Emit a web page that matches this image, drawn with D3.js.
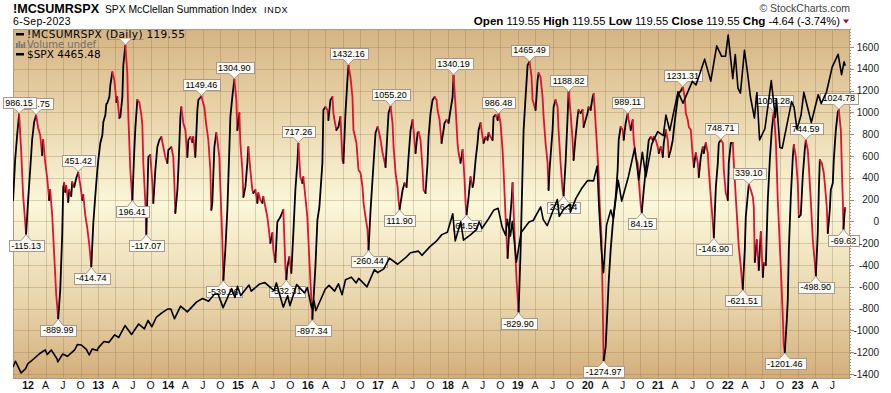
<!DOCTYPE html>
<html><head><meta charset="utf-8">
<script src="https://cdn.jsdelivr.net/npm/d3@7"></script>
<style>body{margin:0;background:#fff}svg{display:block}</style>
</head><body><svg id="c" width="891" height="393"></svg>
<script>
// ---- Data ----
// McClellan Summation Index: [decimal year, value]
const siPoints = [[2011.785,197],[2011.814,564],[2011.843,794],[2011.871,986.15],[2011.900,656],[2011.928,243],[2011.971,-115.13],[2012.000,197],[2012.029,472],[2012.057,748],[2012.086,913],[2012.114,975.75],[2012.143,858],[2012.172,794],[2012.200,610],[2012.215,748],[2012.243,546],[2012.272,399],[2012.300,197],[2012.315,289],[2012.343,60],[2012.372,-307],[2012.401,-674],[2012.429,-889.99],[2012.458,-628],[2012.486,-124],[2012.501,317],[2012.515,353],[2012.529,271],[2012.544,326],[2012.572,179],[2012.587,289],[2012.615,234],[2012.629,362],[2012.658,317],[2012.687,399],[2012.715,451.42],[2012.744,335],[2012.773,197],[2012.787,243],[2012.815,60],[2012.844,-60],[2012.873,-216],[2012.901,-414.74],[2012.930,-14],[2012.959,243],[2012.987,472],[2013.001,564],[2013.030,720],[2013.059,794],[2013.073,913],[2013.102,977],[2013.116,1078],[2013.130,1087],[2013.159,1142],[2013.173,1252],[2013.202,1371],[2013.216,1335],[2013.230,1298],[2013.245,1206],[2013.259,1096],[2013.273,1142],[2013.302,950],[2013.316,959],[2013.345,1142],[2013.359,1436],[2013.388,1615],[2013.416,1362],[2013.431,959],[2013.459,472],[2013.488,196.41],[2013.516,656],[2013.531,858],[2013.559,1115],[2013.588,1096],[2013.617,977],[2013.631,885],[2013.645,537],[2013.674,170],[2013.688,-117.07],[2013.717,592],[2013.745,610],[2013.774,353],[2013.788,170],[2013.817,472],[2013.845,683],[2013.874,748],[2013.903,775],[2013.931,683],[2013.960,592],[2013.989,537],[2014.003,656],[2014.046,683],[2014.074,592],[2014.089,353],[2014.103,78],[2014.132,289],[2014.146,472],[2014.175,959],[2014.189,1050],[2014.217,904],[2014.246,839],[2014.275,592],[2014.289,748],[2014.318,775],[2014.346,729],[2014.360,775],[2014.389,592],[2014.418,1023],[2014.432,1115],[2014.475,1149.46],[2014.489,1115],[2014.518,1050],[2014.546,885],[2014.575,748],[2014.604,472],[2014.618,106],[2014.632,170],[2014.661,683],[2014.689,812],[2014.704,748],[2014.732,592],[2014.747,317],[2014.775,-170],[2014.790,-539.36],[2014.818,-261],[2014.847,106],[2014.875,656],[2014.890,959],[2014.918,1142],[2014.947,1304.90],[2014.976,1115],[2014.990,839],[2015.019,995],[2015.033,720],[2015.062,472],[2015.076,225],[2015.105,317],[2015.133,537],[2015.147,683],[2015.176,472],[2015.205,289],[2015.219,261],[2015.248,289],[2015.276,170],[2015.290,261],[2015.319,197],[2015.348,170],[2015.362,225],[2015.391,133],[2015.419,41],[2015.433,-32],[2015.462,-197],[2015.491,-106],[2015.505,-261],[2015.534,-372],[2015.562,-5],[2015.605,41],[2015.648,106],[2015.677,-417],[2015.691,-532.31],[2015.705,-417],[2015.734,-326],[2015.762,-472],[2015.791,-106],[2015.820,289],[2015.848,537],[2015.863,717.26],[2015.891,408],[2015.920,353],[2015.934,408],[2015.963,225],[2015.991,41],[2016.020,-353],[2016.049,-720],[2016.063,-897.34],[2016.106,-417],[2016.135,14],[2016.163,133],[2016.206,537],[2016.220,1023],[2016.249,1050],[2016.278,1023],[2016.292,931],[2016.321,1115],[2016.349,1142],[2016.363,995],[2016.378,931],[2016.406,839],[2016.435,867],[2016.463,959],[2016.492,564],[2016.506,537],[2016.535,995],[2016.563,1298],[2016.578,1432.16],[2016.606,1326],[2016.635,1142],[2016.649,839],[2016.692,720],[2016.721,472],[2016.750,445],[2016.778,317],[2016.793,170],[2016.821,41],[2016.850,-78],[2016.864,-260.44],[2016.893,106],[2016.936,537],[2016.964,812],[2016.993,867],[2017.007,839],[2017.036,748],[2017.064,628],[2017.079,592],[2017.107,500],[2017.136,839],[2017.150,995],[2017.179,1055.20],[2017.207,904],[2017.222,683],[2017.250,445],[2017.279,317],[2017.293,197],[2017.308,111.90],[2017.351,289],[2017.379,353],[2017.408,317],[2017.436,592],[2017.465,839],[2017.494,931],[2017.508,839],[2017.536,628],[2017.565,812],[2017.579,821],[2017.608,748],[2017.637,472],[2017.651,289],[2017.679,261],[2017.708,537],[2017.722,775],[2017.751,995],[2017.780,1115],[2017.808,1142],[2017.837,1115],[2017.851,1023],[2017.880,931],[2017.908,720],[2017.937,839],[2017.951,904],[2017.980,931],[2018.009,904],[2018.037,1023],[2018.066,1142],[2018.080,1340.19],[2018.109,1050],[2018.137,720],[2018.152,628],[2018.180,537],[2018.209,656],[2018.223,537],[2018.237,381],[2018.252,170],[2018.266,64.55],[2018.295,225],[2018.323,408],[2018.352,317],[2018.366,353],[2018.395,564],[2018.423,720],[2018.438,839],[2018.466,904],[2018.495,775],[2018.509,720],[2018.538,775],[2018.566,748],[2018.581,812],[2018.609,775],[2018.638,748],[2018.652,959],[2018.681,977],[2018.710,931],[2018.724,986.48],[2018.752,904],[2018.781,656],[2018.795,472],[2018.824,41],[2018.853,-335],[2018.881,-32],[2018.910,197],[2018.924,353],[2018.953,-124],[2018.981,-537],[2019.010,-829.90],[2019.039,-261],[2019.067,472],[2019.082,839],[2019.110,1142],[2019.139,1436],[2019.167,1465.49],[2019.196,1326],[2019.210,1115],[2019.224,1087],[2019.253,1023],[2019.282,1298],[2019.296,1362],[2019.324,1326],[2019.353,1142],[2019.368,959],[2019.396,720],[2019.425,537],[2019.439,289],[2019.453,472],[2019.496,839],[2019.511,1050],[2019.539,1115],[2019.568,1050],[2019.582,839],[2019.611,537],[2019.639,289],[2019.654,236.34],[2019.682,537],[2019.711,959],[2019.725,1188.82],[2019.754,995],[2019.782,748],[2019.797,564],[2019.825,775],[2019.854,959],[2019.868,1023],[2019.897,995],[2019.925,1023],[2019.940,867],[2019.968,931],[2019.997,995],[2020.011,1050],[2020.040,1023],[2020.069,1142],[2020.083,1170],[2020.097,1050],[2020.126,748],[2020.154,445],[2020.169,170],[2020.197,-170],[2020.212,-720],[2020.226,-1274.97],[2020.255,-1151],[2020.283,-766],[2020.297,-564],[2020.326,-261],[2020.355,-32],[2020.369,60],[2020.398,225],[2020.426,472],[2020.441,748],[2020.469,867],[2020.498,839],[2020.512,748],[2020.541,904],[2020.569,989.11],[2020.584,931],[2020.612,839],[2020.641,931],[2020.655,748],[2020.684,592],[2020.712,537],[2020.727,381],[2020.755,151],[2020.770,84.15],[2020.798,289],[2020.827,472],[2020.855,656],[2020.870,748],[2020.898,775],[2020.927,748],[2020.941,775],[2020.970,748],[2020.998,683],[2021.013,628],[2021.041,683],[2021.070,592],[2021.084,720],[2021.113,839],[2021.141,748],[2021.156,592],[2021.184,656],[2021.213,748],[2021.227,839],[2021.256,995],[2021.285,1142],[2021.299,1179],[2021.328,1197],[2021.356,1231.31],[2021.385,1142],[2021.399,995],[2021.428,931],[2021.442,867],[2021.471,839],[2021.499,592],[2021.514,500],[2021.542,628],[2021.571,537],[2021.585,408],[2021.614,592],[2021.643,683],[2021.657,628],[2021.685,720],[2021.714,628],[2021.728,472],[2021.757,225],[2021.786,-14],[2021.800,-146.90],[2021.829,317],[2021.857,537],[2021.871,720],[2021.900,748.71],[2021.929,720],[2021.943,472],[2021.971,261],[2022.000,197],[2022.014,537],[2022.043,720],[2022.071,720],[2022.086,537],[2022.114,225],[2022.143,-78],[2022.157,-234],[2022.186,-417],[2022.214,-621.51],[2022.243,-261],[2022.257,41],[2022.286,243],[2022.300,339.10],[2022.329,289],[2022.358,225],[2022.372,133],[2022.386,-372],[2022.415,-170],[2022.443,-445],[2022.472,-96],[2022.501,-509],[2022.515,-381],[2022.544,-399],[2022.572,197],[2022.601,564],[2022.629,839],[2022.658,1003.28],[2022.687,748],[2022.715,197],[2022.758,-417],[2022.787,-876],[2022.801,-1133],[2022.815,-1201.46],[2022.844,-904],[2022.858,-720],[2022.873,-261],[2022.901,225],[2022.930,592],[2022.944,702],[2022.973,592],[2023.001,353],[2023.016,41],[2023.044,60],[2023.073,427],[2023.101,656],[2023.116,744.59],[2023.144,656],[2023.158,518],[2023.187,197],[2023.216,-170],[2023.244,-372],[2023.259,-498.90],[2023.287,-106],[2023.302,289],[2023.316,564],[2023.345,537],[2023.373,445],[2023.387,353],[2023.416,133],[2023.430,-106],[2023.459,106],[2023.473,289],[2023.502,353],[2023.516,564],[2023.545,839],[2023.574,1005],[2023.588,1024.78],[2023.617,839],[2023.632,472],[2023.645,197],[2023.655,-69.62],[2023.668,60],[2023.678,124.19],[2023.682,119.55]];

// S&P 500 overlay: [date, close]
const spxPoints = [["2011-10-14",1224],["2011-10-27",1285],["2011-11-25",1159],["2011-12-19",1206],["2011-12-30",1258],["2012-01-31",1312],["2012-02-29",1366],["2012-03-30",1408],["2012-04-10",1358],["2012-05-01",1406],["2012-05-31",1310],["2012-06-04",1278],["2012-06-29",1362],["2012-07-24",1338],["2012-08-31",1407],["2012-09-14",1465],["2012-10-05",1460],["2012-10-31",1412],["2012-11-15",1353],["2012-11-30",1416],["2012-12-28",1402],["2012-12-31",1426],["2013-01-31",1498],["2013-02-25",1488],["2013-03-28",1569],["2013-04-18",1541],["2013-05-21",1669],["2013-06-24",1573],["2013-07-31",1686],["2013-08-30",1633],["2013-09-18",1725],["2013-10-08",1656],["2013-10-31",1757],["2013-11-29",1806],["2013-12-31",1848],["2014-01-15",1848],["2014-02-03",1742],["2014-03-07",1878],["2014-04-11",1816],["2014-05-30",1924],["2014-06-30",1960],["2014-07-31",1931],["2014-08-29",2003],["2014-09-18",2011],["2014-10-15",1862],["2014-11-28",2068],["2014-12-16",1972],["2014-12-29",2091],["2015-01-15",1992],["2015-02-27",2105],["2015-03-11",2040],["2015-04-24",2117],["2015-05-21",2131],["2015-07-08",2046],["2015-07-20",2128],["2015-08-25",1868],["2015-09-17",1990],["2015-09-29",1884],["2015-11-03",2110],["2015-12-14",2021],["2015-12-29",2078],["2016-01-20",1859],["2016-02-01",1940],["2016-02-11",1829],["2016-03-31",2060],["2016-04-20",2102],["2016-05-19",2040],["2016-06-08",2119],["2016-06-27",2001],["2016-07-15",2162],["2016-08-15",2190],["2016-09-09",2128],["2016-09-22",2177],["2016-11-04",2085],["2016-12-13",2271],["2016-12-30",2239],["2017-01-31",2279],["2017-03-01",2396],["2017-04-13",2329],["2017-05-31",2412],["2017-06-19",2453],["2017-07-31",2470],["2017-08-18",2425],["2017-09-29",2519],["2017-10-31",2575],["2017-11-30",2648],["2017-12-29",2674],["2018-01-26",2873],["2018-02-08",2581],["2018-03-09",2786],["2018-03-23",2588],["2018-04-30",2648],["2018-05-31",2705],["2018-06-12",2787],["2018-06-28",2716],["2018-07-31",2816],["2018-08-29",2914],["2018-09-20",2931],["2018-10-11",2728],["2018-10-29",2641],["2018-11-07",2814],["2018-11-23",2633],["2018-12-03",2790],["2018-12-24",2351],["2019-01-18",2671],["2019-02-28",2784],["2019-03-22",2800],["2019-04-30",2946],["2019-05-13",2812],["2019-06-03",2744],["2019-07-26",3026],["2019-08-05",2845],["2019-08-30",2926],["2019-09-30",2977],["2019-10-02",2888],["2019-10-31",3038],["2019-11-29",3141],["2019-12-31",3231],["2020-01-31",3226],["2020-02-19",3386],["2020-02-28",2954],["2020-03-12",2481],["2020-03-23",2237],["2020-04-08",2750],["2020-04-30",2912],["2020-05-13",2820],["2020-06-08",3232],["2020-06-26",3009],["2020-07-31",3271],["2020-09-02",3580],["2020-09-23",3237],["2020-10-12",3535],["2020-10-30",3270],["2020-11-30",3622],["2020-12-31",3756],["2021-01-29",3714],["2021-02-12",3934],["2021-03-04",3768],["2021-04-16",4185],["2021-05-12",4063],["2021-06-30",4298],["2021-07-19",4258],["2021-08-31",4523],["2021-09-02",4537],["2021-10-04",4300],["2021-11-04",4680],["2021-11-30",4567],["2021-12-20",4568],["2022-01-03",4796],["2022-01-27",4326],["2022-02-09",4587],["2022-02-23",4225],["2022-03-08",4171],["2022-03-29",4632],["2022-04-14",4392],["2022-04-29",4132],["2022-05-20",3901],["2022-06-02",4177],["2022-06-16",3667],["2022-07-14",3790],["2022-08-16",4305],["2022-09-06",3908],["2022-09-12",4110],["2022-09-30",3586],["2022-10-12",3577],["2022-11-30",4080],["2022-12-13",4019],["2022-12-28",3783],["2023-01-18",3929],["2023-02-02",4179],["2023-03-13",3855],["2023-04-18",4154],["2023-05-04",4061],["2023-05-31",4180],["2023-06-30",4450],["2023-07-31",4589],["2023-08-18",4370],["2023-08-31",4508],["2023-09-06",4465]];

// Peak / trough annotations: [decimal year, value, side]
const annotations = [[2012.114,975.75,"up"],[2011.871,986.15,"up"],[2011.971,-115.13,"down"],[2012.429,-889.99,"down"],[2012.715,451.42,"up"],[2012.901,-414.74,"down"],[2013.388,1615.00,"up"],[2013.488,196.41,"down"],[2013.688,-117.07,"down"],[2014.475,1149.46,"up"],[2014.790,-539.36,"down"],[2014.947,1304.90,"up"],[2015.691,-532.31,"down"],[2015.863,717.26,"up"],[2016.063,-897.34,"down"],[2016.578,1432.16,"up"],[2016.864,-260.44,"down"],[2017.179,1055.20,"up"],[2017.308,111.90,"down"],[2018.080,1340.19,"up"],[2018.266,64.55,"down"],[2018.724,986.48,"up"],[2019.010,-829.90,"down"],[2019.167,1465.49,"up"],[2019.654,236.34,"down"],[2019.725,1188.82,"up"],[2020.226,-1274.97,"down"],[2020.569,989.11,"up"],[2020.770,84.15,"down"],[2021.356,1231.31,"up"],[2021.800,-146.90,"down"],[2021.900,748.71,"up"],[2022.214,-621.51,"down"],[2022.300,339.10,"up"],[2022.658,1003.28,"up"],[2022.815,-1201.46,"down"],[2023.116,744.59,"up"],[2023.259,-498.90,"down"],[2023.588,1024.78,"up"],[2023.655,-69.62,"down"]];

const yTickValues = [-1400,-1200,-1000,-800,-600,-400,-200,0,200,400,600,800,1000,1200,1400,1600];
const quarterLetters = {3:"A",6:"J",9:"O"};
const headerFields = [["Open","119.55"],["High","119.55"],["Low","119.55"],["Close","119.55"],["Chg","-4.64 (-3.74%)"]];
const legendItems = ["!MCSUMRSPX (Daily) 119.55","Volume undef","$SPX 4465.48"];

// ---- Layout ----
const W=891,H=393, L=13, R=850, T=29, B=379;
const svg = d3.select("#c");
const decToDate = d => { const y=Math.floor(d), a=Date.UTC(y,0,1), b=Date.UTC(y+1,0,1); return new Date(a+(d-y)*(b-a)); };
const x = d3.scaleUtc().domain([Date.UTC(2011,9,14), Date.UTC(2023,9,1)]).range([L,R]);
const y = d3.scaleLinear().domain([-1445,1766]).range([B,T]);
const ySpx = d3.scaleLinear().domain([1094,4861]).range([B,T]);

const defs = svg.append("defs");
const g = defs.append("linearGradient").attr("id","bg").attr("x1",0).attr("y1",0).attr("x2",0).attr("y2",1);
[[0,"#d5b484"],[0.2,"#e6cfa3"],[0.5,"#fbf7da"],[0.8,"#e7d2a8"],[1,"#d3ad7a"]].forEach(s=>g.append("stop").attr("offset",s[0]).attr("stop-color",s[1]));
defs.append("clipPath").attr("id","plotclip").append("rect").attr("x",L).attr("y",T).attr("width",R-L).attr("height",B-T);
defs.append("clipPath").attr("id","lblclip").append("rect").attr("x",0).attr("y",38.5).attr("width",W).attr("height",H);

svg.append("rect").attr("x",L).attr("y",T).attr("width",R-L).attr("height",B-T).attr("fill","url(#bg)");

// grid
const quarters = d3.utcMonth.every(3).range(new Date(Date.UTC(2012,0,1)), new Date(Date.UTC(2023,9,1)));
const grid = svg.append("g").attr("stroke","#8a6a40").attr("stroke-opacity",0.28).attr("stroke-width",1);
grid.selectAll(".v").data(quarters).join("line").attr("x1",d=>Math.round(x(d))+0.5).attr("x2",d=>Math.round(x(d))+0.5).attr("y1",T).attr("y2",B);
grid.selectAll(".h").data(yTickValues).join("line").attr("y1",d=>Math.round(y(d))+0.5).attr("y2",d=>Math.round(y(d))+0.5).attr("x1",L).attr("x2",R);

// border
svg.append("rect").attr("x",L+0.5).attr("y",T+0.5).attr("width",R-L-1).attr("height",B-T-1).attr("fill","none").attr("stroke","#b09a84");

// SI line coloured by direction
const si = siPoints.map(p=>({d:decToDate(p[0]),v:p[1]}));
const runs=[]; let cur=null;
for(let i=1;i<si.length;i++){
  const col = si[i].v>=si[i-1].v ? "#000" : "#e3102f";
  if(!cur || cur.col!==col){ cur={col,pts:[si[i-1]]}; runs.push(cur); }
  cur.pts.push(si[i]);
}
const line = d3.line().x(p=>x(p.d)).y(p=>y(p.v));
const siG = svg.append("g").attr("clip-path","url(#plotclip)");
siG.selectAll("path").data(runs).join("path").attr("d",r=>line(r.pts)).attr("fill","none")
  .attr("stroke",r=>r.col).attr("stroke-width",1.8).attr("stroke-linejoin","round").attr("stroke-linecap","round");

// annotations
const lg = svg.append("g").attr("clip-path","url(#lblclip)").attr("font-family","'Liberation Sans',Arial,sans-serif").attr("font-size","9px");
annotations.forEach(a=>{
  const px=x(decToDate(a[0])), py=y(a[1]), up=a[2]==="up";
  const bh=11, th=6;
  const by = up ? py-th-bh : py+th;
  const hidden = by < T;               // box runs above the plot: only its lower edge shows
  let w = 36, t = null;
  if(!hidden){
    t = lg.append("text").attr("text-anchor","middle").attr("x",px).attr("y",by+8.6).text(a[1].toFixed(2));
    w = t.node().getComputedTextLength()+5;
  }
  const box = lg.append("rect").attr("x",Math.round(px-w/2)+0.5).attr("y",Math.round(by)+0.5).attr("width",Math.round(w)).attr("height",bh)
    .attr("fill",hidden?"none":"#fbfaf2").attr("stroke","#a99890");
  const base = up ? Math.round(by+bh)+0.5 : Math.round(by)+0.5;
  const tip = up ? py-0.5 : py+0.5;
  const inward = up ? -1.2 : 1.2;
  lg.append("path").attr("d",`M${px-5},${base+inward}L${px-5},${base}L${px},${tip}L${px+5},${base}L${px+5},${base+inward}Z`).attr("fill","#fbfaf2").attr("stroke","none");
  lg.append("path").attr("d",`M${px-5},${base}L${px},${tip}L${px+5},${base}`).attr("fill","none").attr("stroke","#a99890");
  if(t) t.raise();
});

// SPX line on top
const spx = spxPoints.map(p=>({d:new Date(p[0]+"T00:00:00Z"),v:p[1]}));
svg.append("g").attr("clip-path","url(#plotclip)").append("path").datum(spx)
  .attr("d",d3.line().x(p=>x(p.d)).y(p=>ySpx(p.v))).attr("fill","none").attr("stroke","#000").attr("stroke-width",1.6).attr("stroke-linejoin","round");

// right axis
const ax = svg.append("g");
ax.append("line").attr("x1",R+0.5).attr("x2",R+0.5).attr("y1",T).attr("y2",B).attr("stroke","#a08878").attr("stroke-dasharray","1,2");
ax.selectAll(".t").data(yTickValues).join("line").attr("x1",R).attr("x2",R+4).attr("y1",d=>Math.round(y(d))+0.5).attr("y2",d=>Math.round(y(d))+0.5).attr("stroke","#a08878");
ax.selectAll("text").data(yTickValues).join("text").attr("x",879).attr("y",d=>y(d)+3.5).attr("text-anchor","end")
  .attr("font-family","'Liberation Sans',Arial,sans-serif").attr("font-size","10px").attr("fill","#222").text(d=>d);

// bottom axis labels
const bx = svg.append("g").attr("font-family","'Liberation Sans',Arial,sans-serif").attr("font-size","10.5px").attr("fill","#111");
bx.selectAll("text").data(quarters).join("text").attr("x",d=>x(d)).attr("y",389).attr("text-anchor","middle")
  .attr("font-weight",d=>d.getUTCMonth()===0?"bold":"normal")
  .text(d=>d.getUTCMonth()===0 ? d3.utcFormat("%y")(d) : quarterLetters[d.getUTCMonth()]);

// title block
const ff="'Liberation Sans',Arial,sans-serif";
svg.append("text").attr("x",13).attr("y",12.5).attr("font-family",ff).attr("font-weight","bold").attr("font-size","12.6px").text("!MCSUMRSPX");
svg.append("text").attr("x",105).attr("y",12.5).attr("font-family",ff).attr("font-size","10.3px").text("SPX McClellan Summation Index");
svg.append("text").attr("x",264).attr("y",12.5).attr("font-family",ff).attr("font-size","9px").attr("letter-spacing","0.7px").text("INDX");
svg.append("text").attr("x",13).attr("y",25).attr("font-family",ff).attr("font-size","10.5px").attr("letter-spacing","0.3px").text("6-Sep-2023");
svg.append("text").attr("x",850).attr("y",11.5).attr("text-anchor","end").attr("font-family",ff).attr("font-size","10.5px").attr("fill","#444").text("\u00A9 StockCharts.com");
const hdr = svg.append("text").attr("x",840).attr("y",25).attr("text-anchor","end").attr("font-family",ff).attr("font-size","11.2px");
headerFields.forEach((f,i)=>{
  hdr.append("tspan").attr("font-weight","bold").attr("font-size","11.6px").text((i?"  ":"")+f[0]);
  hdr.append("tspan").text(" "+f[1]);
});
svg.append("path").attr("d","M843,19.5L849,19.5L846,23.5Z").attr("fill","#a01030");

// legend
const lgd = svg.append("g").attr("font-family","'DejaVu Sans',Verdana,sans-serif").attr("font-size","10.5px");
lgd.append("rect").attr("x",16).attr("y",33).attr("width",8).attr("height",2.5).attr("fill","#000");
lgd.append("text").attr("x",27).attr("y",38).attr("textLength",158).attr("lengthAdjust","spacing").text(legendItems[0]);
[[16,43,5],[18.5,41,7],[21,44,4],[23.5,42,6]].forEach(b=>lgd.append("rect").attr("x",b[0]).attr("y",b[1]).attr("width",1.8).attr("height",b[2]).attr("fill","#777"));
lgd.append("text").attr("x",27).attr("y",47.5).attr("fill","#707070").attr("font-size","10px").text(legendItems[1]);
lgd.append("rect").attr("x",16).attr("y",53).attr("width",8).attr("height",2.5).attr("fill","#000");
lgd.append("text").attr("x",27).attr("y",58).text(legendItems[2]);
</script></body></html>
